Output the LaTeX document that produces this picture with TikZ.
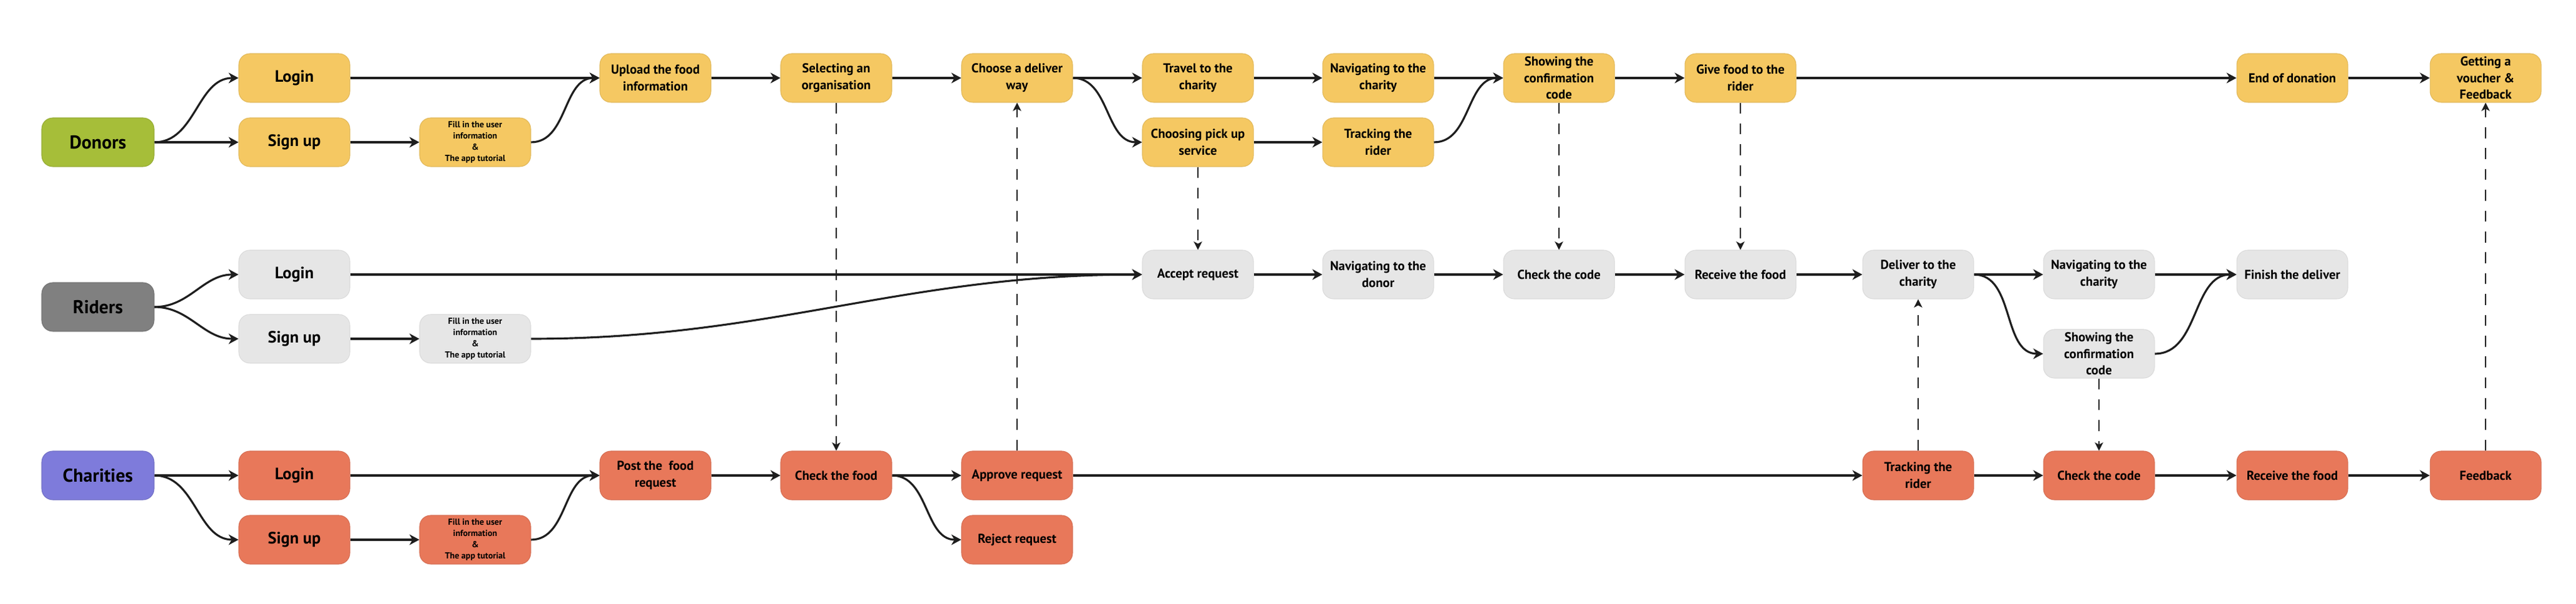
\documentclass[tikz,border=0pt]{standalone}
\usepackage{fontspec}
\setmainfont{PT Sans}
\usetikzlibrary{arrows.meta}
\definecolor{dong}{RGB}{166,190,57}
\definecolor{ridg}{RGB}{128,128,128}
\definecolor{chag}{RGB}{126,123,219}
\definecolor{dbx}{RGB}{245,200,98}
\definecolor{rbx}{RGB}{230,230,230}
\definecolor{cbx}{RGB}{232,120,90}
\definecolor{ink}{RGB}{30,30,30}
\begin{document}
\begin{tikzpicture}[
        lane/.style={rounded corners=5pt,minimum width=1.8cm,minimum height=0.78cm,font=\fontsize{8.5}{9}\selectfont\bfseries},
        box/.style={rounded corners=5pt,minimum width=1.78cm,minimum height=0.78cm,inner sep=1pt,align=center,font=\fontsize{5.9}{7.6}\selectfont\bfseries},
        big/.style={font=\fontsize{7.5}{8}\selectfont\bfseries},
        tiny/.style={font=\fontsize{4}{5.2}\selectfont\bfseries},
        dbox/.style={box,fill=dbx,draw=dbx!92!black,line width=0.3pt},
        rbox/.style={box,fill=rbx,draw=rbx!95!black,line width=0.3pt},
        cbox/.style={box,fill=cbx,draw=cbx!92!black,line width=0.3pt},
        arr/.style={-{Stealth[length=4.5pt,width=4.8pt,inset=1.4pt]},line width=0.9pt,draw=ink},
        dsh/.style={-{Stealth[length=3.8pt,width=3.8pt,inset=1pt]},line width=0.55pt,draw=ink,dash pattern=on 5pt off 4.5pt}
    ]
    \useasboundingbox (0,0) rectangle (41.31,9.68);

    \node[lane,fill=dong,draw=dong!90!black,line width=0.3pt](don) at (1.57,7.40){Donors};
    \node[dbox,big](dlog) at (4.72,8.43){Login};
    \node[dbox,big](dsig) at (4.72,7.40){Sign up};
    \node[dbox,tiny](dfil) at (7.62,7.40){Fill in the user\\information\\\&\\The app tutorial};
    \node[dbox](dupl) at (10.51,8.43){Upload the food\\information};
    \node[dbox](dsel) at (13.41,8.43){Selecting an\\organisation};
    \node[dbox](dcho) at (16.31,8.43){Choose a deliver\\way};
    \node[dbox](dtra) at (19.21,8.43){Travel to the\\charity};
    \node[dbox](dpic) at (19.21,7.40){Choosing pick up\\service};
    \node[dbox](dnav) at (22.10,8.43){Navigating to the\\charity};
    \node[dbox](dtrk) at (22.10,7.40){Tracking the\\rider};
    \node[dbox](dsho) at (25.00,8.43){Showing the\\confirmation\\code};
    \node[dbox](dgiv) at (27.91,8.43){Give food to the\\rider};
    \node[dbox](dend) at (36.76,8.43){End of donation};
    \node[dbox](dget) at (39.86,8.43){Getting a\\voucher \&\\Feedback};

    \node[lane,fill=ridg,draw=ridg!90!black,line width=0.3pt](rid) at (1.57,4.76){Riders};
    \node[rbox,big](rlog) at (4.72,5.28){Login};
    \node[rbox,big](rsig) at (4.72,4.25){Sign up};
    \node[rbox,tiny](rfil) at (7.62,4.25){Fill in the user\\information\\\&\\The app tutorial};
    \node[rbox](racc) at (19.21,5.28){Accept request};
    \node[rbox](rnav) at (22.10,5.28){Navigating to the\\donor};
    \node[rbox](rchk) at (25.00,5.28){Check the code};
    \node[rbox](rrec) at (27.91,5.28){Receive the food};
    \node[rbox](rdel) at (30.76,5.28){Deliver to the\\charity};
    \node[rbox](rnch) at (33.66,5.28){Navigating to the\\charity};
    \node[rbox](rsho) at (33.66,4.01){Showing the\\confirmation\\code};
    \node[rbox](rfin) at (36.76,5.28){Finish the deliver};

    \node[lane,fill=chag,draw=chag!90!black,line width=0.3pt](cha) at (1.57,2.06){Charities};
    \node[cbox,big](clog) at (4.72,2.06){Login};
    \node[cbox,big](csig) at (4.72,1.03){Sign up};
    \node[cbox,tiny](cfil) at (7.62,1.03){Fill in the user\\information\\\&\\The app tutorial};
    \node[cbox](cpos) at (10.51,2.06){Post the \ food\\request};
    \node[cbox](cchk) at (13.41,2.06){Check the food};
    \node[cbox](capp) at (16.31,2.06){Approve request};
    \node[cbox](crej) at (16.31,1.03){Reject request};
    \node[cbox](ctrk) at (30.76,2.06){Tracking the\\rider};
    \node[cbox](ccod) at (33.66,2.06){Check the code};
    \node[cbox](crec) at (36.76,2.06){Receive the food};
    \node[cbox](cfee) at (39.86,2.06){Feedback};

    \foreach \a/\b in {don/dsig,dlog/dupl,dsig/dfil,dupl/dsel,dsel/dcho,dcho/dtra,dtra/dnav,dpic/dtrk,dnav/dsho,dsho/dgiv,dgiv/dend,dend/dget,
            rlog/racc,rsig/rfil,racc/rnav,rnav/rchk,rchk/rrec,rrec/rdel,rdel/rnch,rnch/rfin,
            cha/clog,clog/cpos,csig/cfil,cpos/cchk,cchk/capp,capp/ctrk,ctrk/ccod,ccod/crec,crec/cfee}
        \draw[arr] (\a) -- (\b);

    \foreach \a/\b in {don/dlog,dfil/dupl,dcho/dpic,dtrk/dsho,rid/rlog,rid/rsig,rfil/racc,rdel/rsho,rsho/rfin,cha/csig,cfil/cpos,cchk/crej}
        \draw[arr] (\a.east) to[out=0,in=180] (\b.west);

    \foreach \a/\b in {dsel/cchk,capp/dcho,dpic/racc,dsho/rchk,dgiv/rrec,ctrk/rdel,rsho/ccod,cfee/dget}
        \draw[dsh] (\a) -- (\b);
\end{tikzpicture}
\end{document}
